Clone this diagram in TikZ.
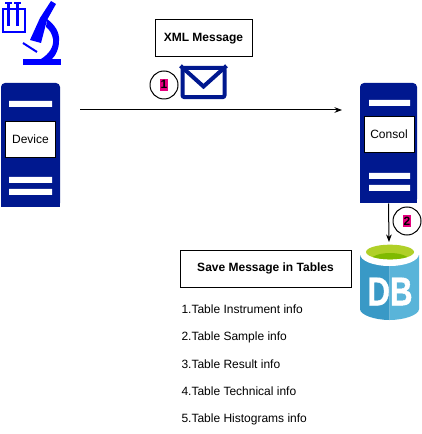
\documentclass[tikz,border=0pt]{standalone}
\usepackage{fontspec}
\setmainfont{Liberation Sans}
\newfontfamily\dbfont[FakeBold=1.2]{Liberation Sans Bold}
\usetikzlibrary{arrows.meta, positioning}
\definecolor{navy}{RGB}{0,24,143}
\definecolor{labblue}{RGB}{0,0,255}
\definecolor{badgepink}{RGB}{230,0,126}
\definecolor{dbleft}{RGB}{57,153,198}
\definecolor{dbright}{RGB}{89,180,217}
\definecolor{dbtop}{RGB}{176,208,40}
\definecolor{dbinner}{RGB}{127,186,0}
\newcommand{\badgenum}[1]{\setlength{\fboxsep}{0.6pt}\colorbox{badgepink}{\rule[-0.6pt]{0pt}{7.2pt}\makebox[4.2pt]{#1}}}

\begin{document}
\begin{tikzpicture}[
  x=0.75pt, y=-0.75pt, line width=0.75pt,
  font=\fontsize{9pt}{11pt}\selectfont, >={Stealth[length=2mm]},
  rack/.style={fill=navy, rounded corners=3pt, inner sep=0pt},
  slot/.style={fill=white},
  screen/.style={draw, fill=white, inner sep=0pt, minimum width=38pt, minimum height=27.5pt},
  titlebox/.style={draw, fill=white, font=\fontsize{9pt}{11pt}\selectfont\bfseries, inner sep=0pt,
                   minimum height=27.75pt},
  badge/.style={draw, circle, fill=white, font=\fontsize{9pt}{11pt}\selectfont\bfseries,
                minimum size=21pt, inner sep=0pt},
  item/.style={inner sep=0pt, outer sep=0pt, text height=7pt, text depth=2pt, minimum height=20.5pt, anchor=north west},
]
  \useasboundingbox[fill=white] (0,0) rectangle (421,434);

  % instruments
  \draw[labblue, line width=1.5pt] (3,9.5) -- (3,32) -- (24.5,32) -- (24.5,9.5) -- cycle;
  \draw[labblue, line width=2.4pt] (8.5,2) -- (8.5,26) (17.5,2) -- (17.5,26);
  \draw[labblue, line width=1.3pt] (5,3) -- (12,3) (14,3) -- (21,3);
  \fill[labblue] (51,1) -- (56,4) -- (47,20) -- (41,43) -- (30,40) -- (40,18) -- cycle;
  \fill[labblue] (47,19) .. controls (54,24) and (60,32) .. (59,41)
    .. controls (59,49) and (56,55) .. (52,59) -- (41,59)
    .. controls (49,54) and (54,47) .. (53,39) .. controls (52,34) and (50,30) .. (46,27) -- cycle;
  \fill[labblue] (23,59) rectangle (61,65);
  \draw[labblue, line width=1.5pt] (23,43) -- (37,52);

  % device
  \node[rack, minimum width=44.25pt, minimum height=93pt] (device) at (30.5,145) {};
  \fill[navy] (1,190) rectangle (60,207);
  \fill[slot] (9,101) rectangle (52,107) (9,177) rectangle (52,183) (9,189) rectangle (52,195);
  \node[screen] (devicescreen) at (30.5,139.5) {Device};

  % consol
  \node[rack, minimum width=42.75pt, minimum height=90pt] (consol) at (388.5,143) {};
  \fill[navy] (360,185) rectangle (417,203);
  \fill[slot] (369,100) rectangle (410,106) (369,173) rectangle (410,179) (369,185) rectangle (410,191);
  \node[screen, minimum width=37.5pt] (consolscreen) at (389,134.5) {Consol};

  % database
  \fill[dbleft] (360,255) -- (360,309) .. controls (360,315) and (375,320) .. (389.5,320) -- (389.5,255) -- cycle;
  \fill[dbright] (419,255) -- (419,309) .. controls (419,315) and (404,320) .. (389.5,320) -- (389.5,255) -- cycle;
  \fill[white] (389.5,254) ellipse [x radius=22.1pt, y radius=9pt];
  \fill[dbtop] (390,252) ellipse [x radius=18pt, y radius=5.5pt];
  \begin{scope}
    \clip (390,252) ellipse [x radius=18pt, y radius=5.5pt];
    \fill[dbinner] (390,261) ellipse [x radius=15pt, y radius=6pt];
  \end{scope}
  \node[white, font=\fontsize{30pt}{30pt}\dbfont, xscale=0.78, inner sep=0pt] (db) at (390,291.5) {DB};
  \coordinate (dbentry) at (389,242);

  % message
  \node[titlebox, minimum width=72.75pt] (xmlmsg) at (203.5,38.5) {XML Message};
  \node[draw=navy, line width=3pt, fill=white, rounded corners=1.5pt, inner sep=0pt,
        minimum width=31.5pt, minimum height=22pt] (envelope) at (203.5,82.5) {};
  \draw[navy, line width=3pt] (envelope.north west) -- ([yshift=-3pt]envelope.center) -- (envelope.north east);
  \coordinate (sendstart) at (80,110);
  \coordinate (sendend) at (342,110);
  \draw[->] (sendstart) -- (sendend);
  \draw[->] (consol.south) -- (dbentry);
  \node[badge] (one) at (164,85) {\badgenum{1}};
  \node[badge] (two) at (407,221) {\badgenum{2}};

  % tables
  \node[titlebox, minimum width=128.25pt] (savemsg) at (265.5,268.5) {Save Message in Tables};
  \node[item] (t1) at (181.5,296.5) {1.Table Instrument info};
  \node[item, below=0pt of t1.south west, anchor=north west] (t2) {2.Table Sample info};
  \node[item, below=0pt of t2.south west, anchor=north west] (t3) {3.Table Result info};
  \node[item, below=0pt of t3.south west, anchor=north west] (t4) {4.Table Technical info};
  \node[item, below=0pt of t4.south west, anchor=north west] (t5) {5.Table Histograms info};
\end{tikzpicture}
\end{document}
